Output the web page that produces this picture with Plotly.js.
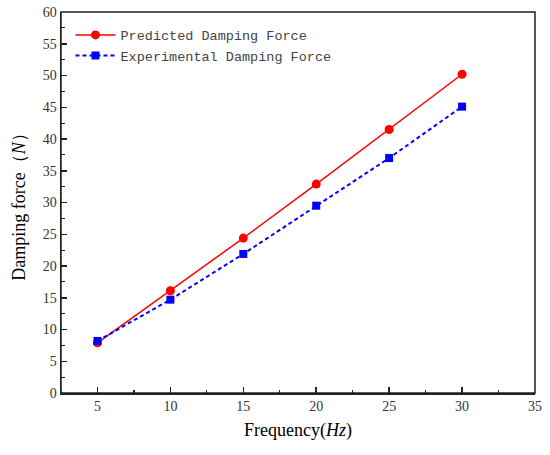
<!DOCTYPE html>
<html><head><meta charset="utf-8">
<script src="https://cdn.plot.ly/plotly-3.0.1.min.js"></script>
<style>html,body{margin:0;padding:0;background:#fff}#c{width:550px;height:455px}</style>
</head><body><div id="c"></div>
<script>
const frequency = [5, 10, 15, 20, 25, 30];
const predicted = [7.9, 16.1, 24.4, 32.9, 41.5, 50.2];
const experimental = [8.2, 14.7, 21.9, 29.5, 37.0, 45.1];
const xTickStep = 5;
const yTickStep = 5;

const serif = "Liberation Serif, Times New Roman, serif";
const traces = [
  {x: frequency, y: predicted, name: "Predicted Damping Force", mode: "lines+markers",
   line: {color: "#ff0000", width: 1.5}, marker: {symbol: "circle", size: 9, color: "#ff0000"}},
  {x: frequency, y: experimental, name: "Experimental Damping Force", mode: "lines+markers",
   line: {color: "#0000ff", width: 2, dash: "4px,3px"}, marker: {symbol: "square", size: 8, color: "#0000ff"}}
];
const axisBase = {showline: true, linecolor: "#222", linewidth: 1.5, mirror: false,
  ticks: "inside", ticklen: 6, tickcolor: "#222", tickwidth: 1.5, showgrid: false, zeroline: false,
  tickfont: {family: serif, size: 14, color: "#333"}, tickmode: "linear", tick0: 0,
  minor: {ticks: "inside", ticklen: 3.5, tickcolor: "#222", tickwidth: 1.2, showgrid: false}};
const layout = {
  width: 550, height: 455,
  margin: {l: 61, r: 15, t: 12, b: 62},
  paper_bgcolor: "#fff", plot_bgcolor: "#fff",
  showlegend: true,
  legend: {x: 0.02, y: 0.98, xanchor: "left", yanchor: "top", bgcolor: "rgba(0,0,0,0)",
    font: {family: "Liberation Mono, monospace", size: 13.5, color: "#444"}, tracegroupgap: 0, itemwidth: 40},
  shapes: [{type: "rect", xref: "paper", yref: "paper", x0: 0, x1: 1, y0: 0, y1: 1,
    line: {color: "#222", width: 1.5}, fillcolor: "rgba(0,0,0,0)", layer: "above"}],
  xaxis: Object.assign({}, axisBase, {range: [2.5, 35], dtick: xTickStep,
    minor: Object.assign({}, axisBase.minor, {dtick: xTickStep / 2, tick0: 0}),
    title: {text: "Frequency(<i>Hz</i>)", font: {family: serif, size: 18, color: "#000"}, standoff: 10}}),
  yaxis: Object.assign({}, axisBase, {range: [0, 60], dtick: yTickStep,
    minor: Object.assign({}, axisBase.minor, {dtick: yTickStep / 2, tick0: 0}),
    title: {text: "Damping force（<i>N</i>）", font: {family: serif, size: 18, color: "#000"}, standoff: 12}})
};
Plotly.newPlot("c", traces, layout, {displayModeBar: false, staticPlot: true});
</script></body></html>
